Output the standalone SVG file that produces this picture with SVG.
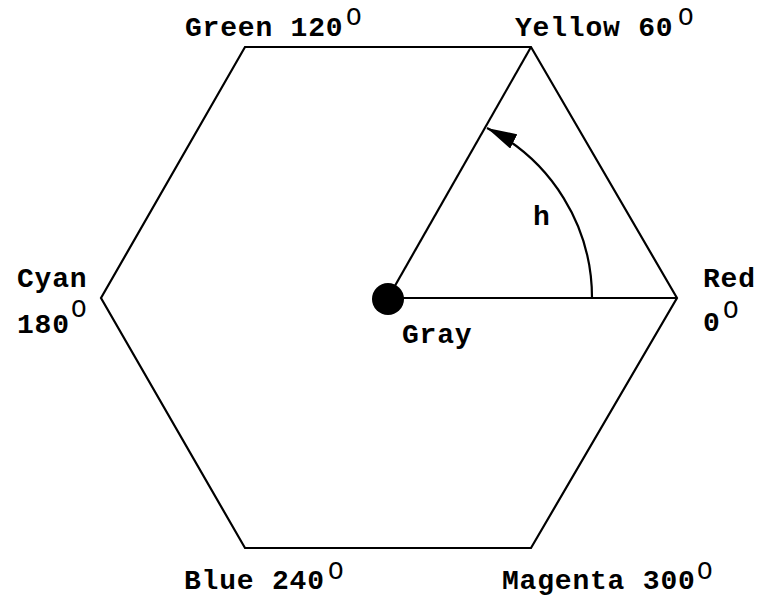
<svg xmlns="http://www.w3.org/2000/svg" width="764" height="598" viewBox="0 0 764 598">
<defs>
<style>
.lbl{font-family:"Liberation Mono","Courier New",monospace;font-weight:bold;font-size:28px;letter-spacing:0.8px;fill:#000}
.sup{font-family:"Liberation Mono","Courier New",monospace;font-size:26px;fill:#000}
.ln{stroke:#000;stroke-width:2.2;fill:none}
</style>
<marker id="ah" viewBox="0 0 30 16" refX="30" refY="8" markerWidth="30" markerHeight="16" markerUnits="userSpaceOnUse" orient="auto">
<path d="M0,0 L30,8 L0,16 Z" fill="#000"/>
</marker>
</defs>
<rect width="764" height="598" fill="#fff"/>
<g id="connectors">
<polygon class="ln" points="677,298 531,47 245,47 101,298 245,548 531,548"/>
<line class="ln" x1="388" y1="298" x2="677" y2="298"/>
<line class="ln" x1="388" y1="298" x2="531" y2="47"/>
<path class="ln" stroke-width="2.5" d="M592,298 A190,190 0 0 0 487,128" marker-end="url(#ah)"/>
</g>
<g id="gray">
<circle cx="388" cy="299" r="16" fill="#000"/>
<text class="lbl" x="402" y="343">Gray</text>
</g>
<g id="red">
<text class="lbl" x="703" y="287">Red</text>
<text class="lbl" x="703" y="331">0</text>
<text class="sup" x="723" y="318">O</text>
</g>
<g id="yellow">
<text class="lbl" x="515" y="36">Yellow 60</text>
<text class="sup" x="678" y="25">O</text>
</g>
<g id="green">
<text class="lbl" x="185" y="36">Green 120</text>
<text class="sup" x="346" y="25">O</text>
</g>
<g id="cyan">
<text class="lbl" x="17" y="287">Cyan</text>
<text class="lbl" x="17" y="333">180</text>
<text class="sup" x="71" y="317">O</text>
</g>
<g id="blue">
<text class="lbl" x="184" y="589">Blue 240</text>
<text class="sup" x="328" y="579">O</text>
</g>
<g id="magenta">
<text class="lbl" x="502" y="589">Magenta 300</text>
<text class="sup" x="697" y="579">O</text>
</g>
<g id="hue">
<text class="lbl" x="533" y="225">h</text>
</g>
</svg>
